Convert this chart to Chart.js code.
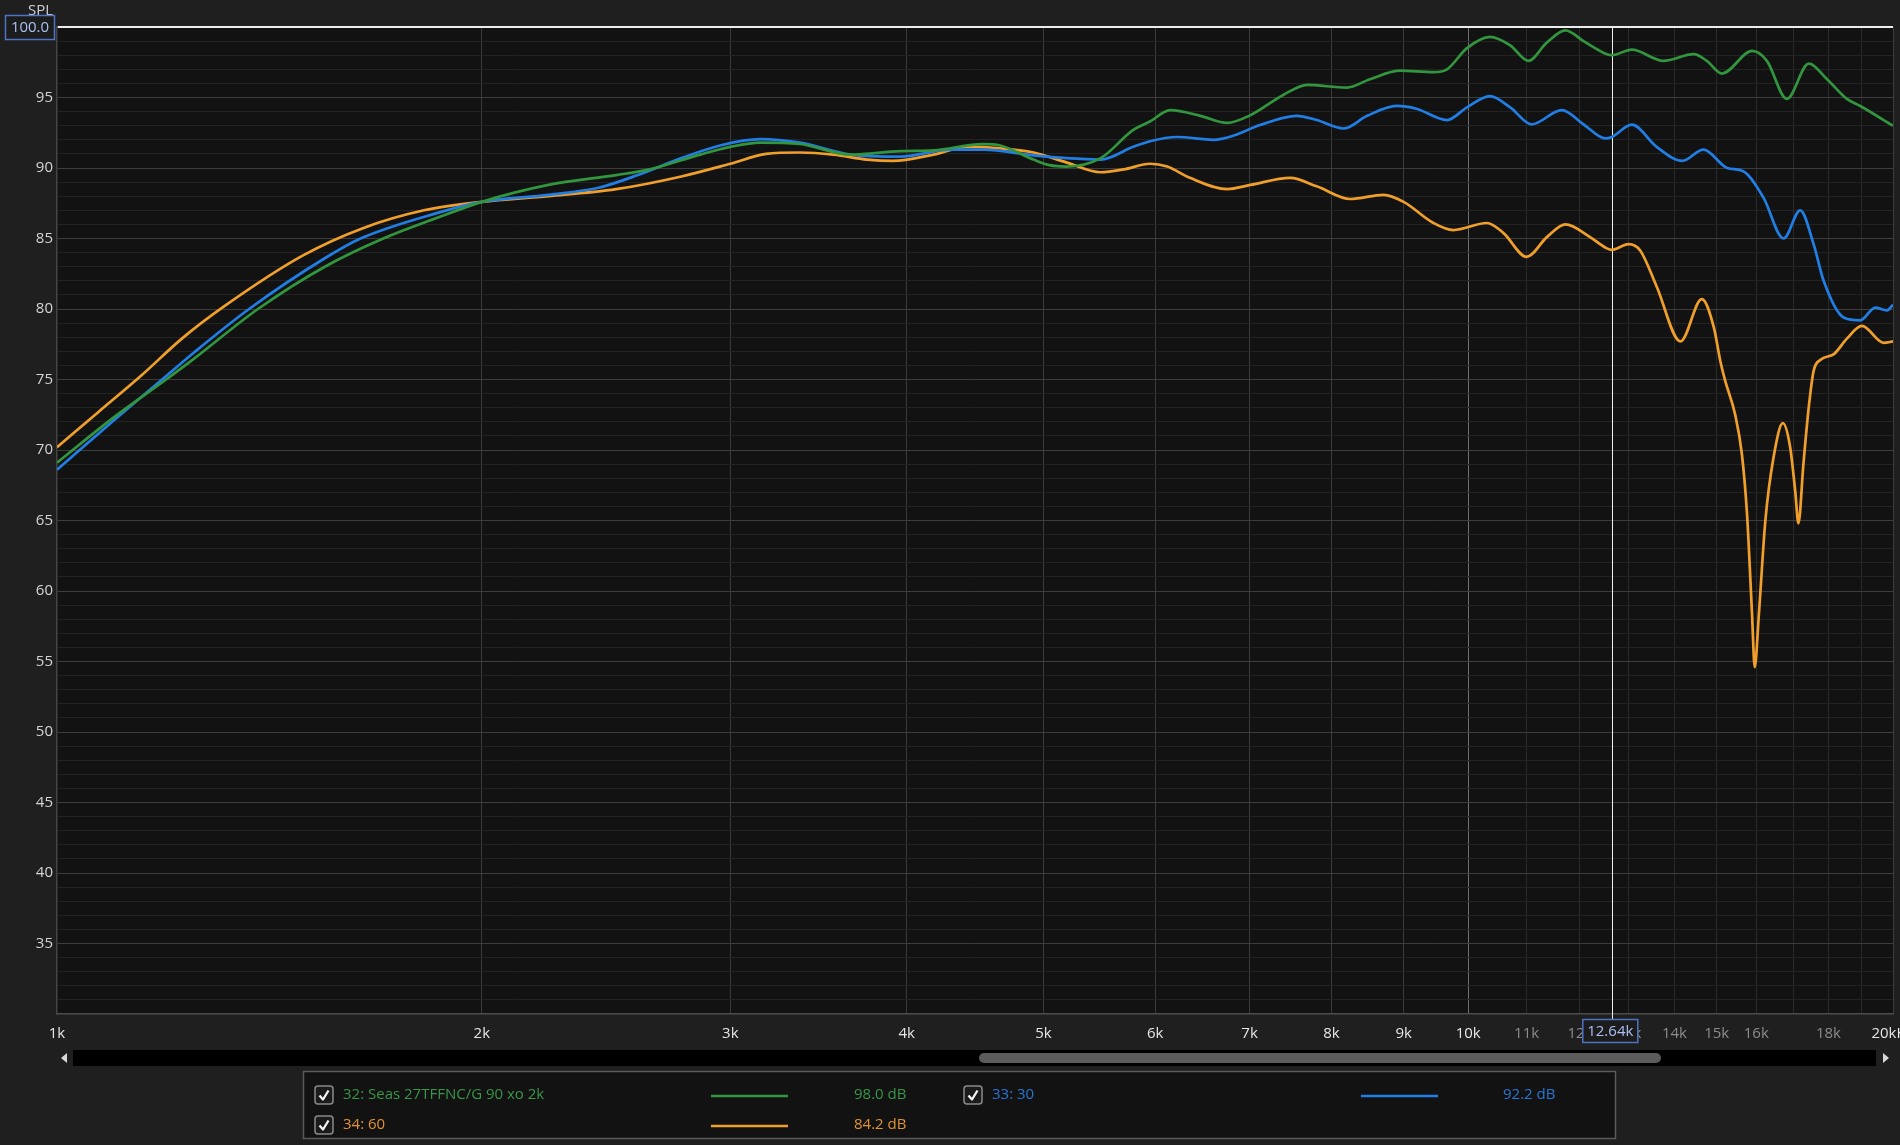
<!DOCTYPE html>
<html><head><meta charset="utf-8">
<script src="https://cdn.jsdelivr.net/npm/chart.js@4.4.1/dist/chart.umd.min.js"></script>
<style>
html,body{margin:0;padding:0;background:#1f1f1f;overflow:hidden}
canvas{display:block}
</style></head><body>
<canvas id="c" width="1900" height="1145"></canvas>
<script>
// ---- data (frequency in kHz, level in dB SPL) ----
const greenFreq = [1.0, 1.1, 1.195, 1.244, 1.388, 1.548, 1.703, 1.858, 2.0, 2.23,
                   2.49, 2.63, 2.856, 3.0, 3.15, 3.36, 3.65, 3.96, 4.18, 4.53,
                   4.66, 4.92, 5.05, 5.19, 5.49, 5.79, 5.95, 6.15, 6.46, 6.75,
                   7.01, 7.40, 7.69, 8.20, 8.52, 8.95, 9.45, 9.66, 9.98, 10.36,
                   10.71, 11.03, 11.37, 11.72, 12.07, 12.54, 12.64, 13.06, 13.75, 14.45,
                   14.76, 15.13, 15.89, 16.28, 16.82, 17.43, 17.96, 18.55, 18.96, 20.0];
const greenDb   = [69.1, 72.4, 75.0, 76.3, 80.0, 83.0, 85.0, 86.45, 87.6, 88.8,
                   89.5, 89.9, 90.95, 91.5, 91.8, 91.7, 90.95, 91.2, 91.25, 91.7,
                   91.6, 90.6, 90.2, 90.1, 90.7, 92.7, 93.3, 94.1, 93.7, 93.2,
                   93.75, 95.2, 95.9, 95.7, 96.3, 96.9, 96.8, 97.0, 98.5, 99.3,
                   98.7, 97.6, 98.9, 99.76, 99.0, 98.07, 98.0, 98.4, 97.6, 98.07,
                   97.6, 96.7, 98.3, 97.6, 94.9, 97.4, 96.3, 94.9, 94.4, 93.0];

const blueFreq  = [1.0, 1.1, 1.187, 1.25, 1.368, 1.548, 1.641, 1.858, 2.0, 2.23,
                   2.42, 2.58, 2.77, 2.95, 3.15, 3.36, 3.65, 3.96, 4.30, 4.53,
                   4.92, 5.19, 5.49, 5.79, 5.95, 6.22, 6.60, 6.82, 7.12, 7.56,
                   7.81, 8.16, 8.48, 8.90, 9.19, 9.66, 9.98, 10.36, 10.71, 11.09,
                   11.65, 12.07, 12.51, 12.64, 13.06, 13.60, 14.18, 14.68, 15.26, 15.67,
                   16.19, 16.73, 17.19, 17.57, 17.86, 18.45, 18.96, 19.43, 19.80, 20.0];
const blueDb    = [68.6, 72.2, 75.0, 76.9, 80.0, 83.6, 85.0, 86.8, 87.6, 88.1,
                   88.6, 89.5, 90.7, 91.6, 92.05, 91.8, 90.95, 90.8, 91.3, 91.3,
                   90.9, 90.7, 90.6, 91.5, 91.9, 92.2, 92.0, 92.3, 93.05, 93.7,
                   93.4, 92.8, 93.7, 94.4, 94.2, 93.4, 94.3, 95.1, 94.3, 93.1,
                   94.1, 93.1, 92.1, 92.2, 93.07, 91.5, 90.5, 91.3, 90.0, 89.76,
                   87.9, 85.0, 87.0, 84.6, 82.0, 79.4, 79.2, 80.1, 79.9, 80.3];

const orangeFreq = [1.0, 1.07, 1.148, 1.226, 1.314, 1.494, 1.649, 1.82, 2.0, 2.23,
                    2.49, 2.77, 3.0, 3.18, 3.36, 3.55, 3.75, 3.91, 4.18, 4.41,
                    4.66, 4.92, 5.19, 5.49, 5.70, 5.95, 6.12, 6.35, 6.75, 7.01,
                    7.48, 7.81, 8.25, 8.71, 9.0, 9.45, 9.76, 10.31, 10.59, 11.0,
                    11.37, 11.72, 12.20, 12.54, 12.64, 12.99, 13.24, 13.60, 14.14, 14.64,
                    14.93, 15.09, 15.21, 15.46, 15.63, 15.76, 15.89, 15.96, 16.07, 16.24,
                    16.46, 16.71, 16.91, 17.05, 17.14, 17.28, 17.43, 17.57, 17.77, 18.16,
                    18.55, 19.01, 19.70, 20.0];
const orangeDb   = [70.2, 72.7, 75.3, 77.9, 80.2, 83.8, 85.75, 87.0, 87.6, 88.0,
                    88.5, 89.4, 90.3, 91.0, 91.1, 90.95, 90.6, 90.5, 90.95, 91.5,
                    91.4, 91.1, 90.4, 89.7, 89.9, 90.3, 90.1, 89.3, 88.5, 88.8,
                    89.3, 88.7, 87.8, 88.1, 87.6, 86.1, 85.6, 86.1, 85.4, 83.7,
                    85.1, 86.0, 85.1, 84.3, 84.2, 84.6, 84.15, 81.6, 77.7, 80.7,
                    78.7, 76.3, 74.9, 72.5, 69.7, 65.5, 58.4, 54.6, 58.4, 65.0,
                    69.5, 71.9, 70.2, 67.1, 64.8, 69.0, 73.0, 75.6, 76.4, 76.8,
                    77.9, 78.8, 77.6, 77.7];

const xTickValues = [1, 2, 3, 4, 5, 6, 7, 8, 9, 10, 11, 12, 13, 14, 15, 16, 17, 18, 19, 20];
const xTickLabels = ['1k','2k','3k','4k','5k','6k','7k','8k','9k','10k','11k','12k','13k','14k','15k','16k','','18k','','20kHz'];
const yMajorTicks = [35, 40, 45, 50, 55, 60, 65, 70, 75, 80, 85, 90, 95];
const yMin = 30, yMax = 100;
const cursorFreq = 12.64;
const cursorLabel = '12.64k';
const topValueLabel = '100.0';
const axisName = 'SPL';
const seriesNames  = ['32: Seas 27TFFNC/G 90 xo 2k', '33: 30', '34: 60'];
const seriesValues = ['98.0 dB', '92.2 dB', '84.2 dB'];

// ---- styles ----
const COL_GREEN = 'rgb(50,150,62)', COL_BLUE = 'rgb(32,126,228)', COL_ORANGE = 'rgb(240,160,42)';
const TXT_GREEN = 'rgb(58,150,72)', TXT_BLUE = 'rgb(42,118,214)', TXT_ORANGE = 'rgb(226,146,52)';
const FONT = "'Open Sans', 'Noto Sans', sans-serif";
Chart.defaults.font.family = FONT;
Chart.defaults.font.size = 15;

const yTickValues = [];
for (let v = yMin; v <= yMax; v++) yTickValues.push(v);

const mk = (label, f, d, color) => ({
  label, data: f.map((v, i) => ({x: v, y: d[i]})),
  borderColor: color, borderWidth: 2.7, pointRadius: 0, pointHoverRadius: 0,
  cubicInterpolationMode: 'monotone', fill: false
});

const bgPlugin = {
  id: 'bg',
  beforeDraw(chart) {
    const {ctx, chartArea: a} = chart;
    ctx.save();
    ctx.fillStyle = '#1f1f1f';
    ctx.fillRect(0, 0, chart.width, chart.height);
    ctx.fillStyle = '#121212';
    ctx.fillRect(a.left, a.top, a.right - a.left, a.bottom - a.top);
    ctx.restore();
  },
  beforeDatasetsDraw(chart) {
    const {ctx, chartArea: a} = chart;
    const x = Math.round(chart.scales.x.getPixelForValue(cursorFreq)) + 0.5;
    ctx.save();
    ctx.strokeStyle = '#f0f0f0';
    ctx.lineWidth = 1;
    ctx.beginPath(); ctx.moveTo(x, a.top); ctx.lineTo(x, 1019); ctx.stroke();
    ctx.restore();
  }
};

function checkbox(ctx, x, y) {
  const s = 18, r = 3;
  ctx.beginPath();
  ctx.moveTo(x + r, y); ctx.lineTo(x + s - r, y); ctx.quadraticCurveTo(x + s, y, x + s, y + r);
  ctx.lineTo(x + s, y + s - r); ctx.quadraticCurveTo(x + s, y + s, x + s - r, y + s);
  ctx.lineTo(x + r, y + s); ctx.quadraticCurveTo(x, y + s, x, y + s - r);
  ctx.lineTo(x, y + r); ctx.quadraticCurveTo(x, y, x + r, y);
  ctx.closePath();
  ctx.fillStyle = '#1b1b1b'; ctx.fill();
  ctx.strokeStyle = '#8a8a8a'; ctx.lineWidth = 1.5; ctx.stroke();
  ctx.beginPath();
  ctx.moveTo(x + 4.5, y + 9.5); ctx.lineTo(x + 8, y + 13.5); ctx.lineTo(x + 13.5, y + 4.5);
  ctx.strokeStyle = '#f4f4f4'; ctx.lineWidth = 2.3; ctx.lineJoin = 'round'; ctx.stroke();
}

const overlayPlugin = {
  id: 'overlay',
  afterDraw(chart) {
    const ctx = chart.ctx;
    ctx.save();
    ctx.font = '15px ' + FONT;
    // axis name (partly hidden behind the value box)
    ctx.fillStyle = '#d0d0d0';
    ctx.textAlign = 'right'; ctx.textBaseline = 'top';
    ctx.fillText(axisName, 53, 3);
    // top value box
    ctx.fillStyle = '#1c1c1c';
    ctx.fillRect(5.5, 15.5, 49, 24);
    ctx.strokeStyle = '#4d74c4'; ctx.lineWidth = 1.5;
    ctx.strokeRect(5.5, 15.5, 49, 24);
    ctx.fillStyle = '#a9c0f2';
    ctx.textAlign = 'center'; ctx.textBaseline = 'middle';
    ctx.fillText(topValueLabel, 30, 28);
    // cursor value box
    const cx = chart.scales.x.getPixelForValue(cursorFreq);
    ctx.fillStyle = '#1c1c1c';
    ctx.fillRect(cx - 29, 1019.5, 55, 23);
    ctx.strokeStyle = '#4d74c4';
    ctx.strokeRect(cx - 29, 1019.5, 55, 23);
    ctx.fillStyle = '#a9c0f2';
    ctx.fillText(cursorLabel, cx - 1.5, 1032);
    // scrollbar
    ctx.fillStyle = '#000000';
    ctx.fillRect(73, 1050, 1803, 16);
    ctx.fillStyle = '#5c5c5c';
    const th = {x: 979, y: 1053, w: 682, h: 10};
    ctx.beginPath();
    ctx.moveTo(th.x + 5, th.y); ctx.lineTo(th.x + th.w - 5, th.y);
    ctx.arc(th.x + th.w - 5, th.y + 5, 5, -Math.PI / 2, Math.PI / 2);
    ctx.lineTo(th.x + 5, th.y + th.h);
    ctx.arc(th.x + 5, th.y + 5, 5, Math.PI / 2, Math.PI * 1.5);
    ctx.fill();
    ctx.fillStyle = '#d8d8d8';
    ctx.beginPath(); ctx.moveTo(61, 1058); ctx.lineTo(67, 1053); ctx.lineTo(67, 1063); ctx.closePath(); ctx.fill();
    ctx.beginPath(); ctx.moveTo(1889, 1058); ctx.lineTo(1883, 1053); ctx.lineTo(1883, 1063); ctx.closePath(); ctx.fill();
    // legend
    ctx.fillStyle = '#121212';
    ctx.fillRect(303.5, 1071.5, 1312, 67);
    ctx.strokeStyle = '#5a5a5a'; ctx.lineWidth = 1.5;
    ctx.strokeRect(303.5, 1071.5, 1312, 67);
    const rows = [
      {cb: 315, name: 343, l0: 711, l1: 788, val: 854, y: 1095, txt: TXT_GREEN, col: COL_GREEN, i: 0},
      {cb: 964, name: 992, l0: 1361, l1: 1438, val: 1503, y: 1095, txt: TXT_BLUE, col: COL_BLUE, i: 1},
      {cb: 315, name: 343, l0: 711, l1: 788, val: 854, y: 1125, txt: TXT_ORANGE, col: COL_ORANGE, i: 2}
    ];
    ctx.textAlign = 'left'; ctx.textBaseline = 'middle';
    ctx.font = '15px ' + FONT;
    rows.forEach(r => {
      checkbox(ctx, r.cb, r.y - 9);
      ctx.fillStyle = r.txt;
      ctx.fillText(seriesNames[r.i], r.name, r.y);
      ctx.fillText(seriesValues[r.i], r.val, r.y);
      ctx.strokeStyle = r.col; ctx.lineWidth = 2.6;
      ctx.beginPath(); ctx.moveTo(r.l0, r.y + 1); ctx.lineTo(r.l1, r.y + 1); ctx.stroke();
    });
    ctx.restore();
  }
};

new Chart(document.getElementById('c'), {
  type: 'line',
  data: {
    datasets: [
      mk(seriesNames[0], greenFreq, greenDb, COL_GREEN),
      mk(seriesNames[1], blueFreq, blueDb, COL_BLUE),
      mk(seriesNames[2], orangeFreq, orangeDb, COL_ORANGE)
    ]
  },
  options: {
    responsive: false, animation: false, devicePixelRatio: 1,
    layout: {padding: {top: 27, right: 7, left: 0, bottom: 0}},
    plugins: {legend: {display: false}, tooltip: {enabled: false}},
    events: [],
    scales: {
      x: {
        type: 'logarithmic', min: 1, max: 20, position: 'bottom',
        afterBuildTicks: s => { s.ticks = xTickValues.map(v => ({value: v})); },
        afterFit: s => { s.height = 131; s.paddingLeft = 0; s.paddingRight = 0; },
        ticks: {
          autoSkip: false, maxRotation: 0, minRotation: 0, padding: 11,
          callback: v => xTickLabels[xTickValues.indexOf(v)],
          color: c => {
            const v = c.tick ? c.tick.value : 0;
            return (v > 10 && v < 20) ? '#8c8c8c' : '#e6e6e6';
          }
        },
        grid: {
          drawTicks: false,
          color: c => {
            const v = c.tick ? c.tick.value : 0;
            if (v === 1) return 'rgba(0,0,0,0)';
            if (v === 10) return '#6e6e6e';
            if (v > 10 && v < 20) return '#2a2a2a';
            return '#3a3a3a';
          }
        },
        border: {color: '#4c4c4c', width: 1.5}
      },
      y: {
        type: 'linear', min: yMin, max: yMax,
        afterBuildTicks: s => { s.ticks = yTickValues.map(v => ({value: v})); },
        afterFit: s => { s.width = 57; s.paddingTop = 0; s.paddingBottom = 0; },
        ticks: {
          autoSkip: false, padding: 4, color: '#d4d4d4',
          callback: v => yMajorTicks.includes(v) ? String(v) : ''
        },
        grid: {
          drawTicks: false,
          color: c => {
            const v = c.tick ? c.tick.value : 0;
            if (v === yMax) return '#ececec';
            if (v === yMin) return 'rgba(0,0,0,0)';
            return v % 5 === 0 ? '#3d3d3d' : '#232323';
          },
          lineWidth: c => (c.tick && c.tick.value === yMax) ? 2 : 1
        },
        border: {color: '#444444', width: 1.5}
      }
    }
  },
  plugins: [bgPlugin, overlayPlugin]
});
</script>
</body></html>
